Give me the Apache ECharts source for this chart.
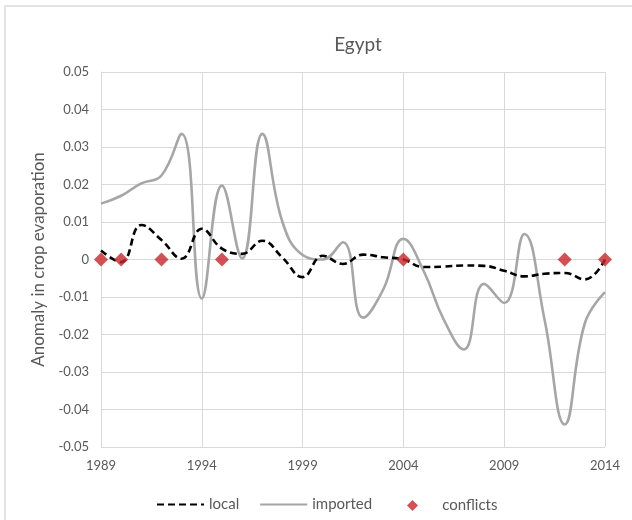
<!DOCTYPE html>
<html>
<head>
<meta charset="utf-8">
<script src="https://cdn.jsdelivr.net/npm/echarts@6/dist/echarts.min.js"></script>
<style>
html,body{margin:0;padding:0;background:#fff;}
#frame{position:absolute;left:4px;top:5px;width:640px;height:530px;border-top:2px solid #e3e3e3;border-left:2px solid #e3e3e3;}
#chart{position:absolute;left:0;top:0;width:632px;height:520px;}
</style>
</head>
<body>
<div id="frame"></div>
<div id="chart"></div>
<script>
const years = ['1989','1990','1991','1992','1993','1994','1995','1996','1997','1998','1999','2000','2001','2002','2003','2004','2005','2006','2007','2008','2009','2010','2011','2012','2013','2014'];
const local = [0.0024,-0.0007,0.0092,0.0052,0.0002,0.0082,0.0029,0.0015,0.0050,0.0005,-0.0047,0.0010,-0.0012,0.0013,0.0006,0.0000,-0.0020,-0.0019,-0.0016,-0.0017,-0.0030,-0.0045,-0.0038,-0.0036,-0.0053,0.0000];
const imported = [0.0149,0.0170,0.0203,0.0224,0.0335,-0.0104,0.0197,0.0003,0.0335,0.0100,0.0012,0.0000,0.0046,-0.0155,-0.0080,0.0055,-0.0030,-0.0160,-0.0240,-0.0065,-0.0116,0.0068,-0.0160,-0.0440,-0.0170,-0.0087];
const conflictYears = ['1989','1990','1992','1995','2004','2012','2014'];
const conflictValues = [0,0,0,0,0,0,0];
const yTicks = {min:-0.05,max:0.05,step:0.01};

const txt = '#595959';
const font = 'Lato, "Open Sans", sans-serif';
const chart = echarts.init(document.getElementById('chart'));
chart.setOption({
  animation:false,
  textStyle:{fontFamily:font,color:txt},
  title:{text:'Egypt',left:353,top:30,textAlign:'center',textStyle:{fontFamily:font,fontSize:19,fontWeight:'normal',color:txt}},
  grid:{left:101,right:27,top:72,bottom:73,containLabel:false},
  legend:[{
    top:492,left:151,itemGap:20,itemWidth:47,itemHeight:14,
    textStyle:{fontFamily:font,fontSize:15,color:txt},
    data:[{name:'local',itemStyle:{opacity:0}},{name:'imported',itemStyle:{opacity:0}}]
  },{
    top:493,left:402,itemWidth:11,itemHeight:11,
    textStyle:{fontFamily:font,fontSize:15,color:txt},
    formatter:n=>'     '+n,
    data:[{name:'conflicts',icon:'diamond',itemStyle:{color:'#c8252a'}}]
  }],
  xAxis:{
    type:'category',data:years,boundaryGap:false,
    axisLine:{show:true,lineStyle:{color:'#d9d9d9'}},
    axisTick:{show:false},
    axisLabel:{interval:4,color:txt,fontSize:13,fontFamily:font,margin:12},
    splitLine:{show:true,interval:4,lineStyle:{color:'#d9d9d9',width:1}}
  },
  yAxis:{
    type:'value',min:yTicks.min,max:yTicks.max,interval:yTicks.step,
    name:'Anomaly in crop evaporation',nameLocation:'middle',nameGap:54,nameRotate:90,
    nameTextStyle:{fontFamily:font,fontSize:17,color:txt},
    axisLine:{show:true,lineStyle:{color:'#d9d9d9'}},
    axisTick:{show:false},
    axisLabel:{color:txt,fontSize:13,fontFamily:font,margin:12,formatter:v=>{const r=Math.round(v*100)/100;return r===0?'0':r.toFixed(2);}},
    splitLine:{show:true,lineStyle:{color:'#d9d9d9',width:1}}
  },
  series:[
    {name:'imported',type:'line',data:imported,smooth:0.45,symbol:'none',z:2,
      lineStyle:{color:'#a6a6a6',width:2.6},itemStyle:{color:'#a6a6a6'}},
    {name:'local',type:'line',data:local,smooth:0.45,symbol:'none',z:3,
      lineStyle:{color:'#000',width:2.6,type:[7,4]},itemStyle:{color:'#000'}},
    {name:'conflicts',type:'scatter',data:conflictYears.map((y,i)=>[y,conflictValues[i]]),symbol:'diamond',symbolSize:14,z:4,
      itemStyle:{color:'#c8252a'}}
  ]
});
</script>
</body>
</html>
